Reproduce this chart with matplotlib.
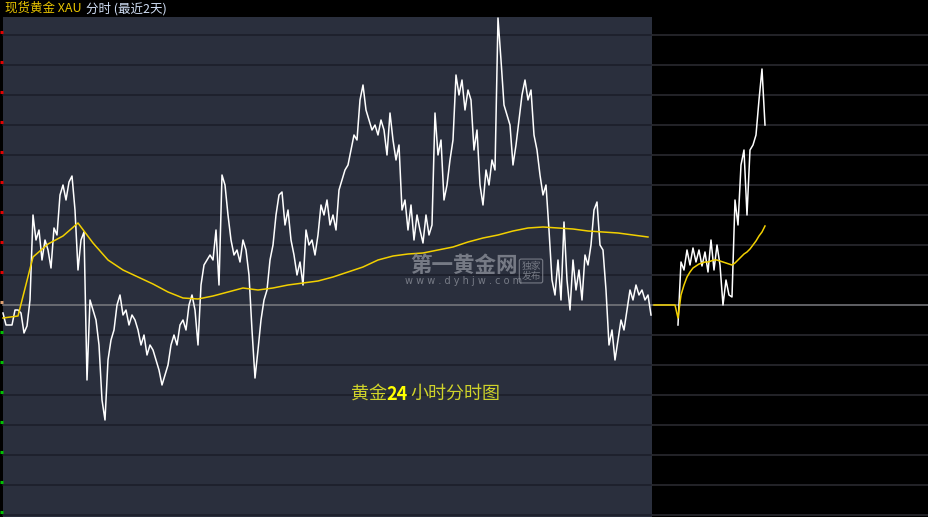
import numpy as np
import matplotlib
matplotlib.use('Agg')
import matplotlib.pyplot as plt

plt.rcParams['font.family'] = ['Noto Sans CJK SC', 'DejaVu Sans']

# Data
PREV_CLOSE = 2030.0
GRID_LEVELS = [2057.0 - 3.0 * k for k in range(17)]

# day 1 minute prices, one sample every few minutes
day1_price = [
    2029.2, 2028.0, 2028.0, 2028.0, 2029.5, 2029.5, 2029.2, 2027.2, 2027.9, 2030.5,
    2039.0, 2036.5, 2037.5, 2034.5, 2036.5, 2035.5, 2033.7, 2037.7, 2037.0, 2041.0,
    2042.0, 2040.5, 2042.3, 2042.9, 2039.5, 2033.5, 2036.5, 2037.3, 2022.5, 2030.5,
    2029.5, 2028.5, 2026.0, 2020.5, 2018.5, 2024.5, 2026.5, 2027.5, 2030.0, 2031.0,
    2029.0, 2029.5, 2028.0, 2029.0, 2028.5, 2027.5, 2026.0, 2027.0, 2025.0, 2026.0,
    2025.5, 2024.5, 2023.5, 2022.0, 2023.0, 2024.0, 2026.0, 2027.0, 2026.0, 2028.0,
    2028.5, 2027.5, 2030.0, 2031.0, 2029.5, 2026.0, 2032.0, 2034.0, 2034.5, 2035.0,
    2034.5, 2037.5, 2032.0, 2043.0, 2042.0, 2039.0, 2036.5, 2035.0, 2035.5, 2034.3,
    2036.5, 2035.5, 2033.0, 2027.5, 2022.7, 2025.5, 2028.5, 2030.5, 2031.5, 2034.5,
    2036.0, 2039.0, 2041.0, 2041.3, 2038.0, 2039.5, 2036.5, 2035.0, 2033.0, 2034.3,
    2032.0, 2037.5, 2036.0, 2036.5, 2035.0, 2037.0, 2040.0, 2039.0, 2040.5, 2038.0,
    2039.0, 2037.5, 2041.5, 2042.5, 2043.5, 2044.0, 2045.5, 2047.0, 2046.5, 2050.5,
    2052.0, 2049.5, 2048.5, 2047.5, 2048.0, 2047.0, 2048.5, 2047.5, 2045.0, 2049.2,
    2046.5, 2044.5, 2046.0, 2039.5, 2040.5, 2037.5, 2040.0, 2036.5, 2039.0, 2037.5,
    2036.2, 2039.0, 2037.0, 2038.0, 2049.2, 2045.0, 2046.5, 2040.5, 2042.0, 2044.5,
    2046.5, 2053.0, 2051.0, 2052.5, 2049.5, 2051.5, 2050.5, 2045.5, 2047.5, 2042.0,
    2040.0, 2043.5, 2042.0, 2044.5, 2043.5, 2058.7, 2054.5, 2050.0, 2049.0, 2048.0,
    2044.0, 2046.0, 2048.5, 2051.0, 2052.5, 2050.5, 2051.5, 2047.0, 2045.5, 2043.0,
    2041.0, 2042.0, 2037.5, 2032.5, 2031.0, 2034.5, 2030.5, 2038.3, 2032.5, 2029.5,
    2034.5, 2031.5, 2033.5, 2030.5, 2035.0, 2034.0, 2036.0, 2039.5, 2040.3, 2036.0,
    2035.5, 2031.5, 2026.0, 2027.5, 2024.5, 2026.5, 2028.5, 2027.5, 2029.5, 2031.5,
    2030.5, 2032.0, 2031.0, 2031.5, 2030.5, 2031.0, 2029.0,
]

# day 2 (session still running), None = not traded yet
day2_price = [
    None, None, None, None, None, None, None, None,
    2028.0, 2034.3, 2033.5, 2035.5, 2034.0, 2035.7, 2034.3, 2035.5, 2033.9, 2035.3,
    2033.3, 2036.5, 2033.5, 2036.0, 2034.0, 2030.0, 2032.5, 2031.0, 2030.8, 2040.5,
    2038.0, 2044.0, 2045.5, 2039.0, 2045.5, 2046.0, 2047.0, 2050.5, 2053.6, 2048.0,
]

# average price line, day 1 sampled every 5th point
day1_avg = [
    2028.7, 2028.9, 2034.8, 2036.1, 2036.9, 2038.2, 2036.2, 2034.5, 2033.5, 2032.8,
    2032.1, 2031.3, 2030.7, 2030.6, 2030.9, 2031.3, 2031.7, 2031.5, 2031.7, 2032.0,
    2032.2, 2032.4, 2032.8, 2033.3, 2033.8, 2034.5, 2034.9, 2035.1, 2035.2, 2035.5,
    2035.8, 2036.3, 2036.7, 2037.0, 2037.4, 2037.7, 2037.8, 2037.7, 2037.6, 2037.4,
    2037.3, 2037.2, 2037.0, 2036.8,
]

day2_avg = [
    2030.0, 2030.0, 2030.0, 2030.0, 2030.0, 2030.0, 2030.0, 2030.0,
    2028.7, 2031.0, 2032.0, 2032.8, 2033.3, 2033.7, 2033.9, 2034.1, 2034.2, 2034.3,
    2034.3, 2034.4, 2034.5, 2034.5, 2034.4, 2034.3, 2034.2, 2034.1, 2034.0, 2034.2,
    2034.5, 2034.8, 2035.1, 2035.3, 2035.6, 2036.0, 2036.4, 2036.9, 2037.3, 2037.9,
]

TITLE_LEFT = '现货黄金 XAU'
TITLE_RIGHT = '分时 (最近2天)'

# Styling
W, H = 929, 517
PANEL = '#2a2f3d'
PANEL_GRID = '#1b1e29'
DARK_GRID = '#2d2d33'
DAY_SPLIT = 216.33
X_MAX = 308.67


def fx(px):
    return px / W


def fy(py):
    return 1 - py / H


fig = plt.figure(figsize=(W / 100, H / 100), dpi=100, facecolor='black')
ax = fig.add_axes([0, 0, 1, 500 / H])
ax.set_facecolor('black')
ax.set_xlim(-1, X_MAX)
ax.set_ylim(2008.8, 2058.8)
for s in ax.spines.values():
    s.set_visible(False)
ax.set_xticks([])
ax.set_yticks([])

# previous day panel
ax.axvspan(0, DAY_SPLIT, color=PANEL, zorder=0, lw=0)

# grid lines
for lvl in GRID_LEVELS:
    if abs(lvl - PREV_CLOSE) < 1e-6:
        ax.plot([0, X_MAX], [lvl, lvl], color='#7a7b80', lw=1.1, zorder=1)
    else:
        ax.plot([0, DAY_SPLIT], [lvl, lvl], color=PANEL_GRID, lw=1.1, zorder=1)
        ax.plot([DAY_SPLIT, X_MAX], [lvl, lvl], color=DARK_GRID, lw=1.1, zorder=1)
    # price scale marks, the labels themselves sit off the left edge
    if lvl > PREV_CLOSE:
        c = '#e00000'
    elif lvl < PREV_CLOSE:
        c = '#00c000'
    else:
        c = '#e0a070'
    ax.plot([-0.9, -0.1], [lvl + 0.3, lvl + 0.3], color=c, lw=2.2, zorder=5,
            solid_capstyle='butt')

# price lines
x1 = np.arange(len(day1_price))
x2 = len(day1_price) + np.arange(len(day2_price))
p2 = np.array([np.nan if v is None else v for v in day2_price])
ax.plot(x1, day1_price, color='white', lw=1.1, zorder=3)
ax.plot(x2, p2, color='white', lw=1.1, zorder=3)

xa1 = np.arange(len(day1_avg)) * 5
ax.plot(xa1, day1_avg, color='#f2d000', lw=1.1, zorder=4)
ax.plot(x2, day2_avg, color='#f2d000', lw=1.1, zorder=4)

# title bar
fig.text(fx(5), fy(8.5), TITLE_LEFT, color='#e8c400', fontsize=9, va='center', ha='left')
fig.text(fx(86), fy(8.5), TITLE_RIGHT, color='#d0def5', fontsize=9, va='center', ha='left')

# caption
fig.text(fx(351), fy(394), '黄金', color='#cfd32a', fontsize=13, va='center', ha='left')
fig.text(fx(386), fy(394), '24', color='#ffff00', fontsize=13, fontweight='bold',
         va='center', ha='left')
fig.text(fx(410), fy(394), '小时分时图', color='#cfd32a', fontsize=13, va='center', ha='left')

# watermark
fig.text(fx(464), fy(265), '第一黄金网', color='#8a8e98', alpha=0.8, fontsize=15.5,
         fontweight='bold', va='center', ha='center')
fig.text(fx(464), fy(281), 'w w w . d y h j w . c o m', color='#8a8e98', alpha=0.8,
         fontsize=7, va='center', ha='center', family='DejaVu Sans')
fig.text(fx(531), fy(271), '独家\n发布', color='#8a8e98', alpha=0.8, fontsize=7,
         linespacing=1.0, va='center', ha='center',
         bbox=dict(boxstyle='round,pad=0.2', fc='none', ec='#8a8e98', alpha=0.8, lw=0.8))

fig.savefig('out.png', dpi=100, facecolor='black')
